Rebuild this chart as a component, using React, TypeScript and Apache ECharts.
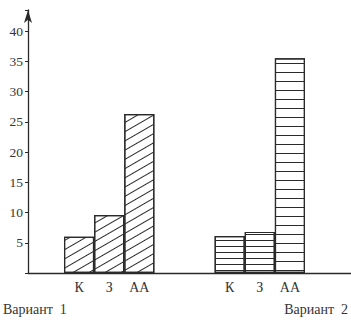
import React, { useEffect, useRef } from 'react';
import * as echarts from 'echarts';

const categories = ['К', 'З', 'АА', '', '', 'К', 'З', 'АА'];
const variant1Values = [6.0, 9.6, 26.3];
const variant2Values = [6.1, 6.8, 35.5];
const variantTitles = ['Вариант  1', 'Вариант  2'];
const yMax = 43.5;
const yStep = 5;

const INK = '#2a2a2a';
const TEXT = '#353535';
const FONT = '"Liberation Serif", "DejaVu Serif", serif';

export default function App() {
  const ref = useRef<HTMLDivElement>(null);

  useEffect(() => {
    if (!ref.current) return;
    const chart = echarts.init(ref.current, null, { renderer: 'svg' });

    const gap = categories.length - variant1Values.length - variant2Values.length;
    const v1Data = [
      ...variant1Values.map((v) => ({ value: v })),
      ...Array(categories.length - variant1Values.length).fill('-'),
    ];
    const v2Data = [
      ...Array(variant1Values.length + gap).fill('-'),
      ...variant2Values.map((v, i) => ({
        value: v,
        itemStyle: {
          decal: {
            symbol: 'rect',
            symbolSize: 1,
            color: INK,
            backgroundColor: '#ffffff',
            dashArrayX: [1, 0],
            dashArrayY: i === variant2Values.length - 1 ? [1, 7.8] : [1, 4.5],
            rotation: 0,
          },
        },
      })),
    ];

    chart.setOption({
      animation: false,
      backgroundColor: '#ffffff',
      textStyle: { fontFamily: FONT },
      grid: [
        { left: 64, right: 46, top: 10, bottom: 48 },
        { left: 28, right: 0, top: 10, bottom: 48 },
      ],
      xAxis: [
        {
          type: 'category',
          gridIndex: 0,
          data: categories,
          axisLine: { show: false },
          axisTick: { show: false },
          axisLabel: { color: TEXT, fontSize: 14, fontFamily: FONT, margin: 7, interval: 0 },
        },
        {
          type: 'value',
          gridIndex: 1,
          min: 0,
          max: 1,
          axisLine: { show: true, lineStyle: { color: INK, width: 1.3 } },
          axisTick: { show: false },
          axisLabel: { show: false },
          splitLine: { show: false },
        },
      ],
      yAxis: [
        {
          type: 'value',
          gridIndex: 0,
          min: 0,
          max: yMax,
          show: false,
          splitLine: { show: false },
        },
        {
          type: 'value',
          gridIndex: 1,
          min: 0,
          max: yMax,
          interval: yStep,
          axisLine: {
            show: true,
            lineStyle: { color: INK, width: 1.3 },
            symbol: ['none', 'arrow'],
            symbolSize: [6, 13],
          },
          axisTick: { show: true, length: 3, lineStyle: { color: INK } },
          axisLabel: {
            color: TEXT,
            fontSize: 13.5,
            fontFamily: FONT,
            margin: 5,
            formatter: (v: number) => (v !== 0 && v % yStep === 0 ? String(v) : ''),
          },
          splitLine: { show: false },
        },
      ],
      series: [
        {
          type: 'bar',
          xAxisIndex: 0,
          yAxisIndex: 0,
          data: v1Data,
          barWidth: '100%',
          barGap: '-100%',
          itemStyle: {
            color: '#ffffff',
            borderColor: INK,
            borderWidth: 1.2,
            decal: {
              symbol: 'rect',
              symbolSize: 1,
              color: INK,
              backgroundColor: '#ffffff',
              dashArrayX: [1, 0],
              dashArrayY: [1, 6.5],
              rotation: -Math.PI / 6,
            },
          },
        },
        {
          type: 'bar',
          xAxisIndex: 0,
          yAxisIndex: 0,
          data: v2Data,
          barWidth: '100%',
          barGap: '-100%',
          itemStyle: {
            color: '#ffffff',
            borderColor: INK,
            borderWidth: 1.2,
          },
        },
      ],
      graphic: [
        {
          type: 'text',
          left: 3,
          top: 302,
          style: { text: variantTitles[0], fill: TEXT, font: `14px ${FONT}` },
        },
        {
          type: 'text',
          right: 3,
          top: 302,
          style: { text: variantTitles[1], fill: TEXT, font: `14px ${FONT}` },
        },
      ],
    });

    return () => chart.dispose();
  }, []);

  return <div ref={ref} style={{ width: 351, height: 321, position: 'absolute', left: 0, top: 0 }} />;
}
